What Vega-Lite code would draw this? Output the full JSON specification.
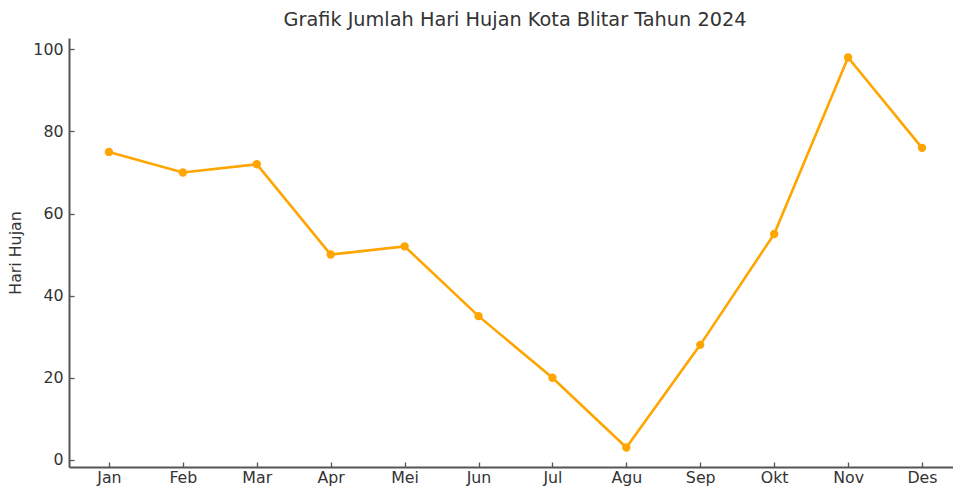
{
  "$schema": "https://vega.github.io/schema/vega-lite/v6.json",
  "autosize": {"type": "none"},
  "padding": {"left": 69, "top": 38, "right": 0, "bottom": 20},
  "width": 884,
  "height": 429,
  "background": "white",
  "title": {
    "text": "Grafik Jumlah Hari Hujan Kota Blitar Tahun 2024",
    "font": "DejaVu Sans",
    "fontSize": 19.3,
    "fontWeight": "normal",
    "color": "#333333",
    "anchor": "middle",
    "dx": 4,
    "offset": 8
  },
  "data": {
    "values": [
      {"bulan": "Jan", "hari": 75},
      {"bulan": "Feb", "hari": 70},
      {"bulan": "Mar", "hari": 72},
      {"bulan": "Apr", "hari": 50},
      {"bulan": "Mei", "hari": 52},
      {"bulan": "Jun", "hari": 35},
      {"bulan": "Jul", "hari": 20},
      {"bulan": "Agu", "hari": 3},
      {"bulan": "Sep", "hari": 28},
      {"bulan": "Okt", "hari": 55},
      {"bulan": "Nov", "hari": 98},
      {"bulan": "Des", "hari": 76}
    ]
  },
  "config": {
    "view": {"stroke": null},
    "axis": {
      "labelFont": "DejaVu Sans",
      "titleFont": "DejaVu Sans",
      "labelFontSize": 15.8,
      "titleFontSize": 15.8,
      "titleFontWeight": "normal",
      "labelColor": "#333333",
      "titleColor": "#333333",
      "domainColor": "#555555",
      "domainWidth": 2,
      "tickColor": "#555555",
      "tickWidth": 1.3,
      "grid": false
    }
  },
  "layer": [
    {
      "mark": {"type": "line", "color": "#FFA500", "strokeWidth": 2.6},
      "encoding": {
        "x": {
          "field": "bulan",
          "type": "ordinal",
          "sort": null,
          "scale": {"type": "point", "padding": 0.48, "align": 0.563},
          "axis": {"title": null, "labelAngle": 0, "tickSize": -5, "labelPadding": 8}
        },
        "y": {
          "field": "hari",
          "type": "quantitative",
          "scale": {"domain": [-1.75, 102.75], "nice": false, "zero": false},
          "axis": {"title": "Hari Hujan", "values": [0, 20, 40, 60, 80, 100], "tickSize": -5, "labelPadding": 11, "titlePadding": 9}
        }
      }
    },
    {
      "mark": {"type": "point", "filled": true, "color": "#FFA500", "size": 70, "opacity": 1},
      "encoding": {
        "x": {"field": "bulan", "type": "ordinal", "sort": null},
        "y": {"field": "hari", "type": "quantitative"}
      }
    }
  ]
}
